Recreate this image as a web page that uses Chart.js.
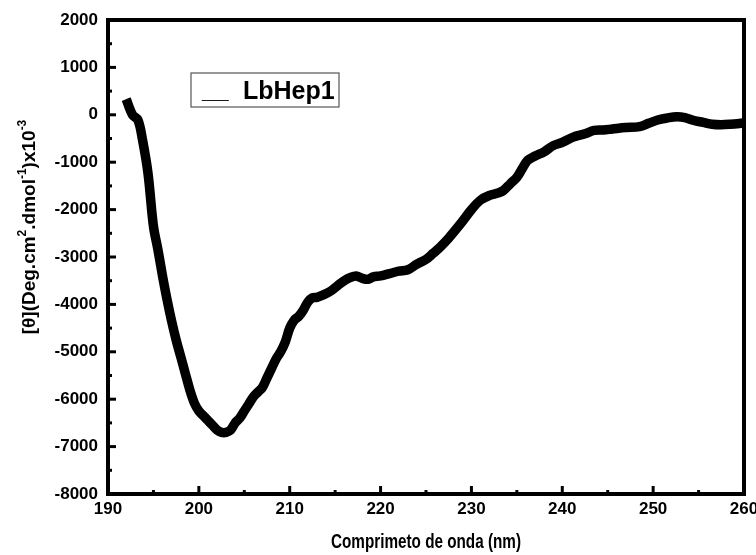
<!DOCTYPE html>
<html>
<head>
<meta charset="utf-8">
<script src="https://cdn.jsdelivr.net/npm/chart.js@4.4.1/dist/chart.umd.min.js"></script>
<style>
  html, body { margin: 0; padding: 0; background: #fff; }
  #wrap { width: 756px; height: 555px; }
</style>
</head>
<body>
<div id="wrap"><canvas id="cd"></canvas></div>
<script>
// CD spectrum of LbHep1: wavelength (nm) and mean residue ellipticity
const wavelengthNm = [
  192.0, 192.7, 193.3, 193.8, 194.4, 195.0, 195.5, 196.0, 196.5, 197.0,
  197.5, 198.0, 198.5, 199.0, 199.5, 200.0, 200.5, 201.0, 201.5, 202.0,
  202.5, 203.0, 203.5, 204.0, 204.5, 205.0, 205.5, 206.0, 206.5, 207.0,
  207.5, 208.0, 208.5, 209.0, 209.5, 210.0, 210.5, 211.0, 211.5, 212.0,
  212.5, 213.0, 213.7, 214.5, 215.3, 216.0, 216.7, 217.3, 218.0, 218.6,
  219.2, 220.0, 221.0, 222.0, 223.0, 224.0, 225.0, 225.8, 226.5, 227.5,
  228.8, 230.0, 231.0, 232.0, 232.9, 233.5, 234.3, 235.0, 235.7, 236.2,
  237.0, 238.0, 239.0, 240.0, 241.2, 242.5, 243.5, 244.5, 245.5, 247.0,
  248.5, 249.5, 250.5, 251.5, 252.6, 253.5, 254.5, 255.5, 256.5, 257.5,
  258.5, 259.6, 260.0
];
const ellipticity = [
   330,     0,  -110,  -530, -1230, -2350, -2850, -3400, -3900, -4350,
  -4750, -5100, -5450, -5800, -6080, -6250, -6350, -6450, -6550, -6650,
  -6700, -6700, -6650, -6500, -6400, -6250, -6100, -5950, -5850, -5750,
  -5550, -5350, -5150, -5000, -4800, -4500, -4330, -4250, -4120, -3950,
  -3860, -3850, -3800, -3720, -3600, -3500, -3430, -3400, -3450, -3470,
  -3420, -3400, -3350, -3300, -3270, -3150, -3050, -2920, -2800, -2600,
  -2300, -2000, -1800, -1700, -1650, -1600, -1450, -1320, -1100,  -960,
   -870,  -780,  -650,  -580,  -470,  -400,  -330,  -320,  -300,  -270,
   -250,  -180,  -110,   -70,   -40,   -60,  -120,  -160,  -200,  -210,
   -200,  -180,  -170
];
const xTicks = [190, 200, 210, 220, 230, 240, 250, 260];
const yTicks = [2000, 1000, 0, -1000, -2000, -3000, -4000, -5000, -6000, -7000, -8000];
const seriesName = 'LbHep1';
const xTitle = 'Comprimeto de onda (nm)';

const FONT = '"Liberation Sans", Arial, Helvetica, sans-serif';

// Y axis title with real superscripts: [θ](Deg.cm².dmol⁻¹)x10⁻³
const yTitleParts = [
  ['[θ](Deg.cm', false], ['2', true], ['.dmol', false], ['-1', true], [')x10', false], ['-3', true]
];

// Frame, inward major/minor ticks, axis titles and the boxed legend
const framePlugin = {
  id: 'frame',
  afterDatasetsDraw(chart) {
    const { ctx, chartArea: a, scales: { x, y } } = chart;
    ctx.save();
    ctx.strokeStyle = '#000';
    ctx.lineCap = 'butt';

    // inward ticks on the bottom axis
    ctx.lineWidth = 3;
    const xs = [...xTicks].sort((p, q) => p - q);
    for (let i = 0; i < xs.length; i++) {
      const px = x.getPixelForValue(xs[i]);
      ctx.beginPath(); ctx.moveTo(px, a.bottom); ctx.lineTo(px, a.bottom - 8); ctx.stroke();
      if (i < xs.length - 1) {
        const mx = x.getPixelForValue((xs[i] + xs[i + 1]) / 2);
        ctx.beginPath(); ctx.moveTo(mx, a.bottom); ctx.lineTo(mx, a.bottom - 4); ctx.stroke();
      }
    }
    // inward ticks on the left axis
    const ys = [...yTicks].sort((p, q) => p - q);
    for (let i = 0; i < ys.length; i++) {
      const py = y.getPixelForValue(ys[i]);
      ctx.beginPath(); ctx.moveTo(a.left, py); ctx.lineTo(a.left + 8, py); ctx.stroke();
      if (i < ys.length - 1) {
        const my = y.getPixelForValue((ys[i] + ys[i + 1]) / 2);
        ctx.beginPath(); ctx.moveTo(a.left, my); ctx.lineTo(a.left + 4, my); ctx.stroke();
      }
    }

    // box around the plot
    ctx.lineWidth = 4;
    ctx.lineJoin = 'miter';
    ctx.strokeRect(a.left, a.top, a.right - a.left, a.bottom - a.top);

    ctx.fillStyle = '#000';
    ctx.textBaseline = 'alphabetic';

    // x title, slightly condensed
    ctx.font = 'bold 19.5px ' + FONT;
    const xw = ctx.measureText(xTitle).width;
    const sx = 190 / xw;
    ctx.textAlign = 'center';
    ctx.setTransform(sx, 0, 0, 1, (a.left + a.right) / 2, 548);
    ctx.fillText(xTitle, 0, 0);
    ctx.setTransform(1, 0, 0, 1, 0, 0);

    // rotated y title
    ctx.textAlign = 'left';
    const big = 'bold 19px ' + FONT, small = 'bold 12px ' + FONT;
    let total = 0;
    const widths = yTitleParts.map(([t, sup]) => {
      ctx.font = sup ? small : big;
      const w = ctx.measureText(t).width;
      total += w;
      return w;
    });
    ctx.translate(35, 227);
    ctx.rotate(-Math.PI / 2);
    let cx = -total / 2;
    yTitleParts.forEach(([t, sup], i) => {
      ctx.font = sup ? small : big;
      ctx.fillText(t, cx, sup ? -9 : 0);
      cx += widths[i];
    });
    ctx.setTransform(1, 0, 0, 1, 0, 0);

    // legend box
    const lx = 191, ly = 73, lw = 148, lh = 34;
    ctx.fillStyle = '#fff';
    ctx.fillRect(lx, ly, lw, lh);
    ctx.lineWidth = 1.2;
    ctx.strokeStyle = '#555';
    ctx.strokeRect(lx, ly, lw, lh);
    ctx.fillStyle = '#000';
    ctx.font = 'bold 24px ' + FONT;
    ctx.fillText('__', lx + 11, ly + 25);
    ctx.font = 'bold 25px ' + FONT;
    ctx.fillText(seriesName, lx + 52, ly + 26);
    ctx.restore();
  }
};

new Chart(document.getElementById('cd'), {
  type: 'line',
  data: {
    datasets: [{
      label: seriesName,
      data: wavelengthNm.map((w, i) => ({ x: w, y: ellipticity[i] })),
      borderColor: '#000',
      borderWidth: 9.5,
      pointRadius: 0,
      tension: 0.35,
      borderJoinStyle: 'round',
      borderCapStyle: 'butt',
      fill: false
    }]
  },
  options: {
    responsive: true,
    maintainAspectRatio: false,
    animation: false,
    layout: { padding: { top: 20, right: 12, left: 0, bottom: 0 } },
    plugins: { legend: { display: false }, tooltip: { enabled: false } },
    scales: {
      x: {
        type: 'linear',
        min: 190, max: 260,
        afterBuildTicks(s) { s.ticks = xTicks.map(v => ({ value: v })); },
        afterFit(s) { s.height = 61; s.paddingLeft = 0; s.paddingRight = 0; },
        grid: { display: false, drawTicks: false },
        border: { display: false },
        ticks: {
          color: '#000', padding: 5, maxRotation: 0, autoSkip: false,
          callback: v => String(v),
          font: { family: FONT, size: 17, weight: 'bold' }
        },
        title: { display: false }
      },
      y: {
        type: 'linear',
        min: -8000, max: 2000,
        afterBuildTicks(s) { s.ticks = yTicks.map(v => ({ value: v })); },
        afterFit(s) { s.width = 108; s.paddingTop = 0; s.paddingBottom = 0; },
        grid: { display: false, drawTicks: false },
        border: { display: false },
        ticks: {
          color: '#000', padding: 10, autoSkip: false,
          callback: v => String(v),
          font: { family: FONT, size: 17, weight: 'bold' }
        },
        title: { display: false }
      }
    }
  },
  plugins: [framePlugin]
});
</script>
</body>
</html>
